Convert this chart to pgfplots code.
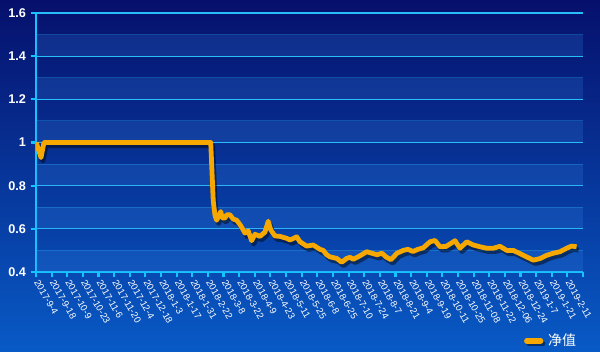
\documentclass[border=0pt]{standalone}
\usepackage{fontspec}
\setmainfont{Liberation Sans}
\newfontfamily\cjk{Noto Sans CJK SC}
\usepackage{pgfplots}
\pgfplotsset{compat=1.18}
\usepackage{pgfplotstable}
\definecolor{bgtop}{RGB}{6,16,108}
\definecolor{bgbot}{RGB}{8,90,198}
\definecolor{axcyan}{RGB}{20,196,255}
\definecolor{gridcyan}{RGB}{40,190,250}
\definecolor{lineor}{RGB}{246,168,0}
\definecolor{bandblue}{RGB}{60,140,235}

\pgfplotstableread{
d v
0 1.0
1.3 0.975
3.2 0.93
5.1 1.0
111.8 1.0
113.4 0.73
114.5 0.664
115.6 0.64
118.2 0.68
119.2 0.65
120.9 0.65
122 0.665
124.1 0.665
126.2 0.645
128.4 0.64
130.5 0.62
132.6 0.595
133.7 0.58
135.8 0.59
138 0.545
140.1 0.575
143.3 0.565
146.5 0.585
148.6 0.635
150.2 0.595
152.9 0.567
156.1 0.565
160.4 0.556
162.5 0.548
166.8 0.563
168.9 0.54
173.2 0.52
177.4 0.525
181.7 0.505
183.8 0.50
186 0.48
188.1 0.47
192.4 0.463
195.6 0.445
198.8 0.463
200.9 0.468
203 0.459
207.3 0.475
211.6 0.494
214.8 0.487
218.2 0.48
221.4 0.487
223.9 0.47
227.1 0.457
231 0.487
235 0.50
238 0.505
241.2 0.495
244.4 0.505
247.8 0.512
252.1 0.54
255.3 0.546
258.5 0.517
262.3 0.518
266 0.535
268.1 0.545
271.3 0.51
275.6 0.54
279.8 0.525
284.1 0.517
288.4 0.51
292.6 0.51
296.9 0.519
301.2 0.50
305.4 0.50
309.7 0.485
313.9 0.47
318.2 0.455
322.5 0.462
326.7 0.477
331 0.487
335.3 0.494
339.5 0.51
342.7 0.52
345.9 0.517
}\nav

\begin{document}
\begin{tikzpicture}[x=1pt,y=1pt]
\shade[top color=bgtop, bottom color=bgbot] (0,0) rectangle (450,264);
\begin{axis}[
  at={(27pt,60pt)}, anchor=south west,
  width=410.25pt, height=194.25pt, scale only axis,
  xmin=0, xmax=350, ymin=0.4, ymax=1.6,
  axis x line=bottom, axis y line=left,
  axis line style={axcyan, line width=1.6pt, -},
  xtick={0,10,...,350},
  xticklabels={2017-9-4,2017-9-18,2017-10-9,2017-10-23,2017-11-6,2017-11-20,2017-12-4,2017-12-18,2018-1-3,2018-1-17,2018-1-31,2018-2-22,2018-3-8,2018-3-22,2018-4-9,2018-4-23,2018-5-11,2018-5-25,2018-6-8,2018-6-25,2018-7-10,2018-7-24,2018-8-7,2018-8-21,2018-9-4,2018-9-19,2018-10-11,2018-10-25,2018-11-08,2018-11-22,2018-12-06,2018-12-24,2019-1-7,2019-1-21,2019-2-11,{}},
  ytick={0.4,0.6,0.8,1,1.2,1.4,1.6},
  yticklabels={0.4,0.6,0.8,1,1.2,1.4,1.6},
  minor ytick={0.5,0.7,0.9,1.1,1.3,1.5},
  tick align=outside, major tick length=4pt, minor tick length=0pt,
  tick style={axcyan, line width=1.6pt},
  ymajorgrids, yminorgrids,
  major grid style={gridcyan, line width=0.8pt},
  minor grid style={gridcyan, opacity=0.3, line width=0.8pt},
  /pgf/number format/assume math mode=true,
  xticklabel shift=1.5pt,
  xticklabel style={rotate=-60, anchor=west, text=white, font=\fontsize{7.1}{8}\selectfont, inner sep=1pt},
  yticklabel style={text=white, font=\bfseries\fontsize{9.5}{11}\selectfont},
  legend style={at={(1,-0.266)}, anchor=east, draw=none, fill=none, text=white, font=\cjk\fontsize{10.5}{12}\selectfont},
  legend image code/.code={
    \draw[black, opacity=0.45, line width=4pt, line cap=round] (1.5pt,-2pt) -- (12pt,-2pt);
    \draw[lineor, line width=4pt, line cap=round] (0pt,0pt) -- (10.5pt,0pt);
  },
]
\fill[bandblue, opacity=0.2] (axis cs:0,0.4) rectangle (axis cs:350,0.5);
\fill[bandblue, opacity=0.2] (axis cs:0,0.6) rectangle (axis cs:350,0.7);
\fill[bandblue, opacity=0.2] (axis cs:0,0.8) rectangle (axis cs:350,0.9);
\fill[bandblue, opacity=0.2] (axis cs:0,1.0) rectangle (axis cs:350,1.1);
\fill[bandblue, opacity=0.2] (axis cs:0,1.2) rectangle (axis cs:350,1.3);
\fill[bandblue, opacity=0.2] (axis cs:0,1.4) rectangle (axis cs:350,1.5);
\addplot[forget plot, black, opacity=0.45, line width=3.6pt, line join=round, xshift=1.5pt, yshift=-2.5pt] table[x=d, y=v] {\nav};
\addplot[lineor, line width=3.6pt, line join=round] table[x=d, y=v] {\nav};
\addlegendentry{净值}
\end{axis}
\pgfresetboundingbox
\useasboundingbox (0,0) rectangle (450,264);
\end{tikzpicture}
\end{document}
